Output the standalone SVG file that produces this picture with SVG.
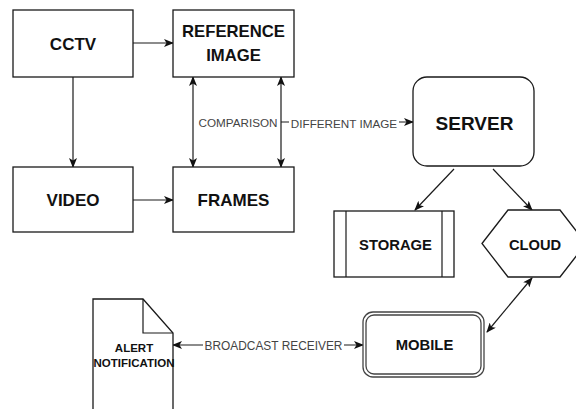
<svg xmlns="http://www.w3.org/2000/svg" width="576" height="409" viewBox="0 0 576 409">
<style>
.box{fill:#fff;stroke:#1a1a1a;stroke-width:1.3}
.t{font-family:"Liberation Sans",Arial,sans-serif;font-weight:bold;fill:#111;text-anchor:middle;dominant-baseline:central}
.lbl{font-family:"Liberation Sans",Arial,sans-serif;fill:#444;text-anchor:middle;dominant-baseline:central;font-size:11.7px}
.c{fill:none;stroke:#1a1a1a;stroke-width:1.2}
</style>
<defs>
<marker id="ah" viewBox="0 0 10 8" refX="9" refY="4" markerWidth="10" markerHeight="8" markerUnits="userSpaceOnUse" orient="auto-start-reverse">
<path d="M0,0 L10,4 L0,8 L2.5,4 Z" fill="#111"/>
</marker>
</defs>
<rect width="576" height="409" fill="#fff"/>
<g id="connectors">
<line class="c" x1="133" y1="43" x2="173" y2="43" marker-end="url(#ah)"/>
<line class="c" x1="73" y1="77" x2="73" y2="167" marker-end="url(#ah)"/>
<line class="c" x1="133" y1="200" x2="173" y2="200" marker-end="url(#ah)"/>
<line class="c" x1="193" y1="77" x2="193" y2="167" marker-start="url(#ah)" marker-end="url(#ah)"/>
<line class="c" x1="281" y1="77" x2="281" y2="167" marker-start="url(#ah)" marker-end="url(#ah)"/>
<line class="c" x1="281" y1="122" x2="413" y2="122" marker-end="url(#ah)"/>
<rect x="289" y="114" width="110" height="16" fill="#fff"/>
<text class="lbl" x="344" y="123">DIFFERENT IMAGE</text>
<text class="lbl" x="238" y="122">COMPARISON</text>
<line class="c" x1="454" y1="169" x2="415" y2="210" marker-end="url(#ah)"/>
<line class="c" x1="493" y1="169" x2="532" y2="210" marker-end="url(#ah)"/>
<line class="c" x1="487" y1="332" x2="532" y2="278" marker-start="url(#ah)" marker-end="url(#ah)"/>
<line class="c" x1="173" y1="345" x2="363" y2="345" marker-start="url(#ah)" marker-end="url(#ah)"/>
<rect x="203" y="337" width="141" height="16" fill="#fff"/>
<text class="lbl" x="273.5" y="346" style="font-size:11.9px">BROADCAST RECEIVER</text>
</g>
<g id="cctv">
<rect class="box" x="13" y="10" width="120" height="67"/>
<text class="t" x="73" y="44" style="font-size:17px">CCTV</text>
</g>
<g id="reference-image">
<rect class="box" x="173" y="10" width="121" height="67"/>
<text class="t" x="233.5" y="31" style="font-size:16.7px">REFERENCE</text>
<text class="t" x="233.5" y="55" style="font-size:16.7px">IMAGE</text>
</g>
<g id="video">
<rect class="box" x="13" y="167" width="120" height="65"/>
<text class="t" x="73" y="200" style="font-size:17px">VIDEO</text>
</g>
<g id="frames">
<rect class="box" x="173" y="167" width="121" height="65"/>
<text class="t" x="233.5" y="200" style="font-size:17px">FRAMES</text>
</g>
<g id="server">
<rect class="box" x="413" y="77" width="121" height="89" rx="14" ry="14"/>
<text class="t" x="474.5" y="123" style="font-size:19px">SERVER</text>
</g>
<g id="storage">
<rect class="box" x="334" y="211" width="120" height="66"/>
<line class="c" x1="346" y1="211" x2="346" y2="277"/>
<line class="c" x1="442" y1="211" x2="442" y2="277"/>
<text class="t" x="395.5" y="245" style="font-size:14.8px">STORAGE</text>
</g>
<g id="cloud">
<polygon class="box" points="482,243.5 508,210 560,210 586,243.5 560,277 508,277"/>
<text class="t" x="535" y="245" style="font-size:14.7px">CLOUD</text>
</g>
<g id="mobile">
<rect class="box" x="363" y="312" width="121" height="65" rx="10" ry="10" style="stroke:#444"/>
<rect class="box" x="366" y="315" width="115" height="59" rx="8" ry="8" style="stroke:#444"/>
<text class="t" x="424.5" y="345" style="font-size:14.8px">MOBILE</text>
</g>
<g id="alert-notification">
<path class="box" d="M93,415 L93,299 L143,299 L173,333 L173,415"/>
<path class="c" d="M143,299 L143,333 L173,333"/>
<text class="t" x="134" y="348" style="font-size:11.5px">ALERT</text>
<text class="t" x="134" y="363" style="font-size:11.5px">NOTIFICATION</text>
</g>
</svg>
